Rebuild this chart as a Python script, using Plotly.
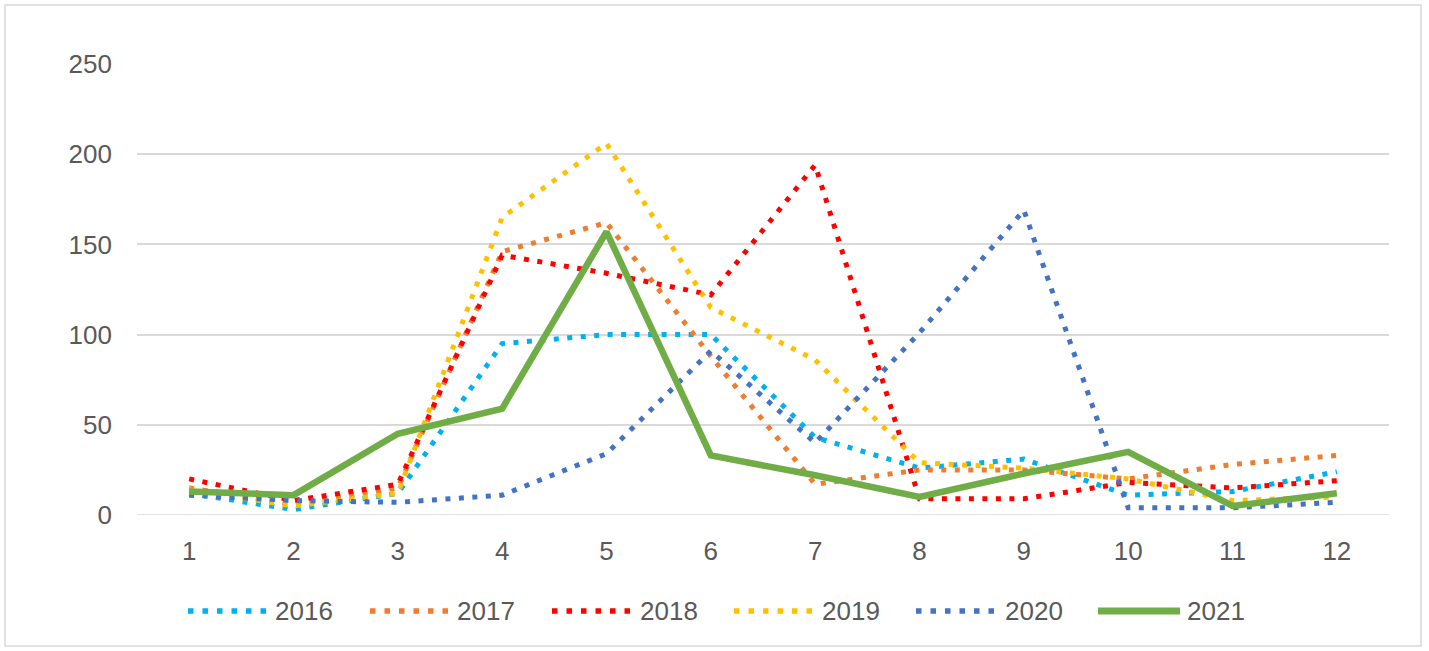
import plotly.graph_objects as go

months = list(range(1, 13))
y2016 = [12, 3, 12, 95, 100, 100, 43, 26, 31, 11, 13, 24]
y2017 = [15, 6, 15, 146, 162, 88, 17, 25, 25, 20, 28, 33]
y2018 = [20, 8, 17, 144, 134, 122, 194, 9, 9, 18, 15, 19]
y2019 = [14, 5, 12, 165, 206, 115, 86, 29, 26, 20, 8, 10]
y2020 = [11, 8, 7, 11, 34, 91, 40, 101, 169, 4, 4, 7]
y2021 = [13, 11, 45, 59, 157, 33, 22, 10, 23, 35, 5, 12]

years = ["2016", "2017", "2018", "2019", "2020", "2021"]
colors = ["#00B0F0", "#ED7D31", "#FF0000", "#FFC000", "#4472C4", "#70AD47"]
values = [y2016, y2017, y2018, y2019, y2020, y2021]

DOT = "5px,8.5px"

fig = go.Figure()
for name, vals, col in zip(years, values, colors):
    if name == "2021":
        line = dict(color=col, width=6.5)
    else:
        line = dict(color=col, width=5, dash=DOT)
    fig.add_trace(go.Scatter(
        x=months, y=vals, name=name, mode="lines",
        line=line, cliponaxis=False,
    ))

W, H = 1429, 651
L, R, T, B = 137, 40, 64, 136
pw = W - L - R
ph = H - T - B


def px_x(p):
    return (p - L) / pw


def px_y(p):
    return (H - B - p) / ph


shapes = [dict(
    type="line", xref="paper", yref="y", x0=0, x1=1, y0=0, y1=0,
    line=dict(color="#D9D9D9", width=1.5), layer="below",
), dict(
    type="rect", xref="paper", yref="paper",
    x0=px_x(5), x1=px_x(1421), y0=px_y(646), y1=px_y(5),
    line=dict(color="#D9D9D9", width=1.5), layer="below",
)]
annotations = []

# custom legend (horizontal, under the chart)
leg_y = 611
for i, (name, col) in enumerate(zip(years, colors)):
    x0 = 188 + i * 182
    if name == "2021":
        ln = dict(color=col, width=7)
        xs, xe = 1098, 1180
    else:
        ln = dict(color=col, width=5.5, dash="5.5px,9px")
        xs, xe = x0, x0 + 78
    shapes.append(dict(type="line", xref="paper", yref="paper",
                       x0=px_x(xs), x1=px_x(xe), y0=px_y(leg_y), y1=px_y(leg_y),
                       line=ln))
    annotations.append(dict(
        xref="paper", yref="paper", x=px_x(273 + i * 182.4), y=px_y(leg_y),
        xanchor="left", yanchor="middle", text=name, showarrow=False,
        font=dict(size=26, color="#595959"),
    ))

fig.update_layout(
    width=W, height=H,
    margin=dict(l=L, r=R, t=T, b=B),
    paper_bgcolor="white", plot_bgcolor="white",
    font=dict(family="Liberation Sans, Arial, sans-serif", size=26, color="#595959"),
    showlegend=False,
    xaxis=dict(
        range=[0.5, 12.5], tickmode="array", tickvals=months,
        ticktext=[str(m) for m in months],
        showgrid=False, zeroline=False, showline=False,
        ticks="", ticklabelstandoff=18, automargin=False,
    ),
    yaxis=dict(
        range=[0, 250], tickmode="array", tickvals=[0, 50, 100, 150, 200, 250],
        showgrid=True, gridcolor="#D9D9D9", gridwidth=1.5,
        zeroline=False, showline=False, ticks="", ticklabelstandoff=24,
        automargin=False,
    ),
    shapes=shapes,
    annotations=annotations,
)

fig.write_html("out.html",
               config={"displayModeBar": False},
               post_script="document.body.style.margin='0px';document.body.style.overflow='hidden';")
